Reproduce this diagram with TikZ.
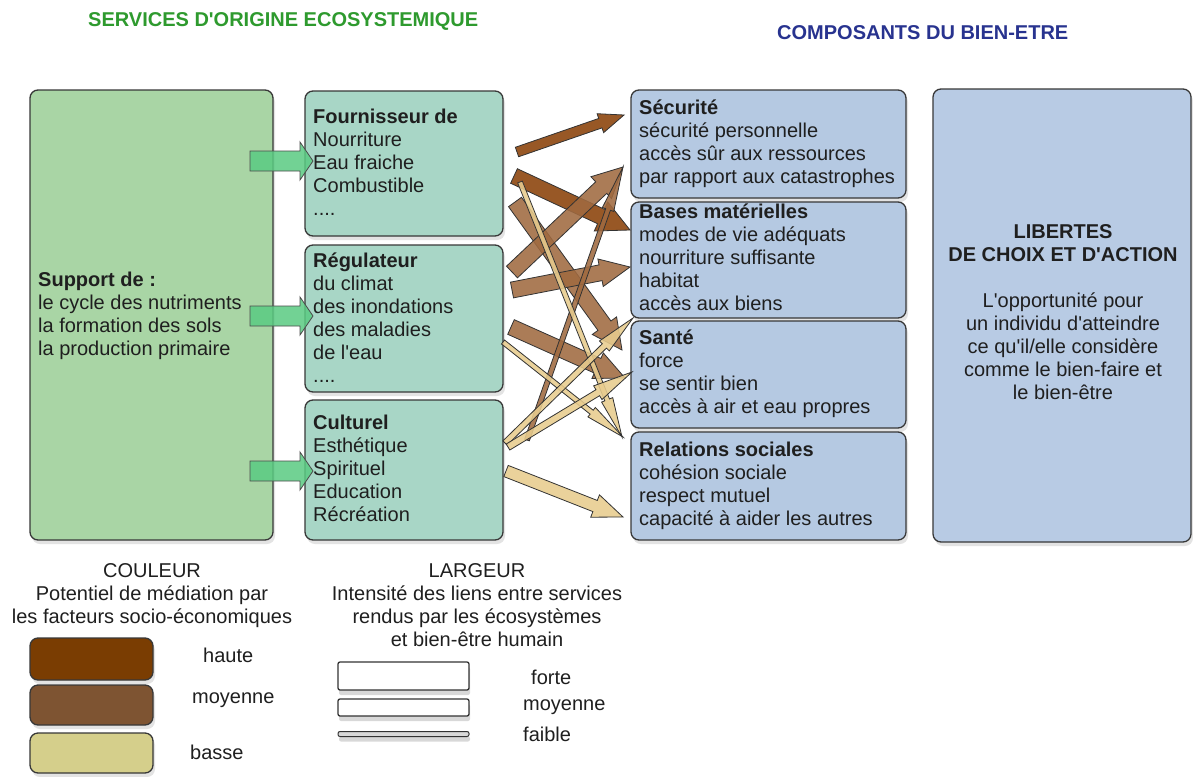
\documentclass[tikz,border=0pt]{standalone}
\usepackage{fontspec}
\setmainfont{Liberation Sans}[Ligatures=TeXOff]
\usetikzlibrary{calc,shadows}
\definecolor{supgreen}{HTML}{A9D5A5}
\definecolor{midteal}{HTML}{A8D6C6}
\definecolor{wbblue}{HTML}{B5C9E2}
\definecolor{libblue}{HTML}{B8CBE4}
\definecolor{ttlgreen}{HTML}{2E9A2E}
\definecolor{ttlblue}{HTML}{28338F}
\definecolor{arrhaute}{HTML}{8A4208}
\definecolor{arrmoy}{HTML}{A06A40}
\definecolor{arrbas}{HTML}{E8CC8E}
\definecolor{swhaute}{HTML}{7A3D02}
\definecolor{swmoy}{HTML}{7E5432}
\definecolor{swbas}{HTML}{D5CF8B}
\definecolor{arrgreen}{HTML}{5ACB82}
\newcommand{\myfnt}{\fontsize{20}{23}\selectfont}
% block arrow: #1 style, #2 start, #3 end, #4 shaft half width, #5 head half width, #6 head length
\newcommand{\blkarrow}[6]{%
  \draw[#1] ($(#2)!#4!90:(#3)$) -- ($($(#3)!#6!(#2)$)!#4!90:(#3)$) -- ($($(#3)!#6!(#2)$)!#5!90:(#3)$) -- (#3) -- ($($(#3)!#6!(#2)$)!#5!-90:(#3)$) -- ($($(#3)!#6!(#2)$)!#4!-90:(#3)$) -- ($(#2)!#4!-90:(#3)$) -- cycle;}
\begin{document}
\begin{tikzpicture}[x=1pt,y=-1pt,
  sbox/.style={draw=black!78, line width=1.3pt, rounded corners=8pt, inner sep=0pt,
    drop shadow={shadow xshift=2pt, shadow yshift=-4pt, opacity=0.22}},
  wbox/.style={draw=black!80, line width=1.3pt, rounded corners=2pt, inner sep=0pt, fill=white,
    drop shadow={shadow xshift=1pt, shadow yshift=-5pt, opacity=0.3}},
  txt/.style={anchor=north west, inner sep=0pt, align=left, font=\myfnt, text=black!88},
  ctxt/.style={anchor=north, inner sep=0pt, align=center, font=\myfnt, text=black!88},
  ltxt/.style={anchor=west, inner sep=0pt, font=\myfnt, text=black!88},
  arr/.style={draw=black!80, line width=0.8pt, fill opacity=0.88},
  garr/.style={draw=black!70, line width=0.8pt, fill=arrgreen, fill opacity=0.85}]
\useasboundingbox[fill=white] (0,0) rectangle (1193,776);

% titles
\node[anchor=base west, inner sep=0pt, font=\fontsize{20}{24}\selectfont\bfseries, text=ttlgreen] (t1) at (88,27) {SERVICES D'ORIGINE ECOSYSTEMIQUE};
\node[anchor=base west, inner sep=0pt, font=\fontsize{20}{24}\selectfont\bfseries, text=ttlblue] (t2) at (777,40) {COMPOSANTS DU BIEN-ETRE};

% boxes
\node[sbox, fill=supgreen, minimum width=243pt, minimum height=450pt] (sup) at (151.5,315) {};
\node[sbox, fill=midteal, minimum width=198pt, minimum height=145pt] (four) at (404,163.5) {};
\node[sbox, fill=midteal, minimum width=198pt, minimum height=147pt] (regu) at (404,318.5) {};
\node[sbox, fill=midteal, minimum width=198pt, minimum height=140pt] (cult) at (404,470) {};
\node[sbox, fill=wbblue, minimum width=275pt, minimum height=108pt] (secu) at (768.5,144) {};
\node[sbox, fill=wbblue, minimum width=275pt, minimum height=116pt] (bases) at (768.5,260) {};
\node[sbox, fill=wbblue, minimum width=275pt, minimum height=107pt] (sante) at (768.5,374.5) {};
\node[sbox, fill=wbblue, minimum width=275pt, minimum height=108pt] (rel) at (768.5,486) {};
\node[sbox, fill=libblue, minimum width=258pt, minimum height=453pt] (lib) at (1062,315.5) {};

% box texts
\node[txt] (supT) at (38,270) {\strut\textbf{Support de :}\\le cycle des nutriments\\la formation des sols\\la production primaire};
\node[txt] (fourT) at (313,107) {\strut\textbf{Fournisseur de}\\Nourriture\\Eau fraiche\\Combustible\\....};
\node[txt] (reguT) at (313,251) {\strut\textbf{Régulateur}\\du climat\\des inondations\\des maladies\\de l'eau\\....};
\node[txt] (cultT) at (313,413) {\strut\textbf{Culturel}\\Esthétique\\Spirituel\\Education\\Récréation};
\node[txt] (secuT) at (639,98) {\strut\textbf{Sécurité}\\sécurité personnelle\\accès sûr aux ressources\\par rapport aux catastrophes};
\node[txt] (basesT) at (639,202) {\strut\textbf{Bases matérielles}\\modes de vie adéquats\\nourriture suffisante\\habitat\\accès aux biens};
\node[txt] (santeT) at (639,328) {\strut\textbf{Santé}\\force\\se sentir bien\\accès à air et eau propres};
\node[txt] (relT) at (639,440) {\strut\textbf{Relations sociales}\\cohésion sociale\\respect mutuel\\capacité à aider les autres};
\node[ctxt, font=\myfnt\bfseries] (libT1) at (1063,222) {\strut LIBERTES\\DE CHOIX ET D'ACTION};
\node[ctxt] (libT2) at (1063,291) {\strut L'opportunité pour\\un individu d'atteindre\\ce qu'il/elle considère\\comme le bien-faire et\\le bien-être};

% green arrows
\coordinate (g1s) at (250,161); \coordinate (g1e) at (313,161);
\coordinate (g2s) at (250,316); \coordinate (g2e) at (313,316);
\coordinate (g3s) at (250,471); \coordinate (g3e) at (313,471);
\blkarrow{garr}{g1s}{g1e}{10pt}{19pt}{13pt}
\blkarrow{garr}{g2s}{g2e}{10pt}{19pt}{13pt}
\blkarrow{garr}{g3s}{g3e}{10pt}{19pt}{13pt}

% brown arrows: end points
\coordinate (a1s) at (517,152); \coordinate (a1e) at (624,115);
\coordinate (a2s) at (514,176); \coordinate (a2e) at (630,230);
\coordinate (a3s) at (515,202); \coordinate (a3e) at (622,350);
\coordinate (a4s) at (520,182); \coordinate (a4e) at (622,437);
\coordinate (a5s) at (512,272); \coordinate (a5e) at (623,167);
\coordinate (a6s) at (512,290); \coordinate (a6e) at (630,267);
\coordinate (a7s) at (511,327); \coordinate (a7e) at (625,378);
\coordinate (a8s) at (503,342); \coordinate (a8e) at (623,437);
\coordinate (a9s) at (527,440); \coordinate (a9e) at (623,167);
\coordinate (a10s) at (505,443); \coordinate (a10e) at (633,318);
\coordinate (a11s) at (508,447); \coordinate (a11e) at (632,372);
\coordinate (a12s) at (506,471); \coordinate (a12e) at (623,517);

\blkarrow{arr, fill=arrmoy}{a3s}{a3e}{8pt}{15pt}{30pt}
\blkarrow{arr, fill=arrhaute}{a2s}{a2e}{8pt}{16pt}{32pt}
\blkarrow{arr, fill=arrmoy}{a7s}{a7e}{8pt}{14pt}{30pt}
\blkarrow{arr, fill=arrmoy}{a6s}{a6e}{8pt}{14pt}{30pt}
\blkarrow{arr, fill=arrmoy}{a5s}{a5e}{8pt}{15pt}{30pt}
\blkarrow{arr, fill=arrhaute}{a1s}{a1e}{5pt}{10pt}{25pt}
\blkarrow{arr, fill=arrbas}{a12s}{a12e}{6pt}{12pt}{30pt}
\blkarrow{arr, fill=arrmoy}{a9s}{a9e}{2.5pt}{6pt}{45pt}
\blkarrow{arr, fill=arrbas}{a4s}{a4e}{2.5pt}{6pt}{40pt}
\blkarrow{arr, fill=arrbas}{a8s}{a8e}{2.5pt}{6pt}{40pt}
\blkarrow{arr, fill=arrbas}{a10s}{a10e}{3pt}{7pt}{40pt}
\blkarrow{arr, fill=arrbas}{a11s}{a11e}{3.5pt}{8pt}{40pt}

% legend colour
\node[ctxt] (legC) at (152,561) {\strut COULEUR\\Potentiel de médiation par\\les facteurs socio-économiques};
\node[sbox, fill=swhaute, minimum width=123pt, minimum height=42pt] (sw1) at (91.5,659) {};
\node[sbox, fill=swmoy, minimum width=123pt, minimum height=40pt] (sw2) at (91.5,705) {};
\node[sbox, fill=swbas, minimum width=123pt, minimum height=40pt] (sw3) at (91.5,753) {};
\node[ltxt] (sw1T) at (203,655) {haute};
\node[ltxt] (sw2T) at (192,700) {moyenne};
\node[ltxt] (sw3T) at (190,752) {basse};

% legend width
\node[ctxt] (legL) at (477,561) {\strut LARGEUR\\Intensité des liens entre services\\rendus par les écosystèmes\\et bien-être humain};
\node[wbox, minimum width=131pt, minimum height=28pt] (r1) at (403.5,676) {};
\node[wbox, minimum width=131pt, minimum height=17pt] (r2) at (403.5,707.5) {};
\node[wbox, fill=black!15, line width=1pt, minimum width=131pt, minimum height=5pt] (r3) at (403.5,734) {};
\node[ltxt] (r1T) at (531,677) {forte};
\node[ltxt] (r2T) at (523,707) {moyenne};
\node[ltxt] (r3T) at (523,734) {faible};
\end{tikzpicture}
\end{document}
